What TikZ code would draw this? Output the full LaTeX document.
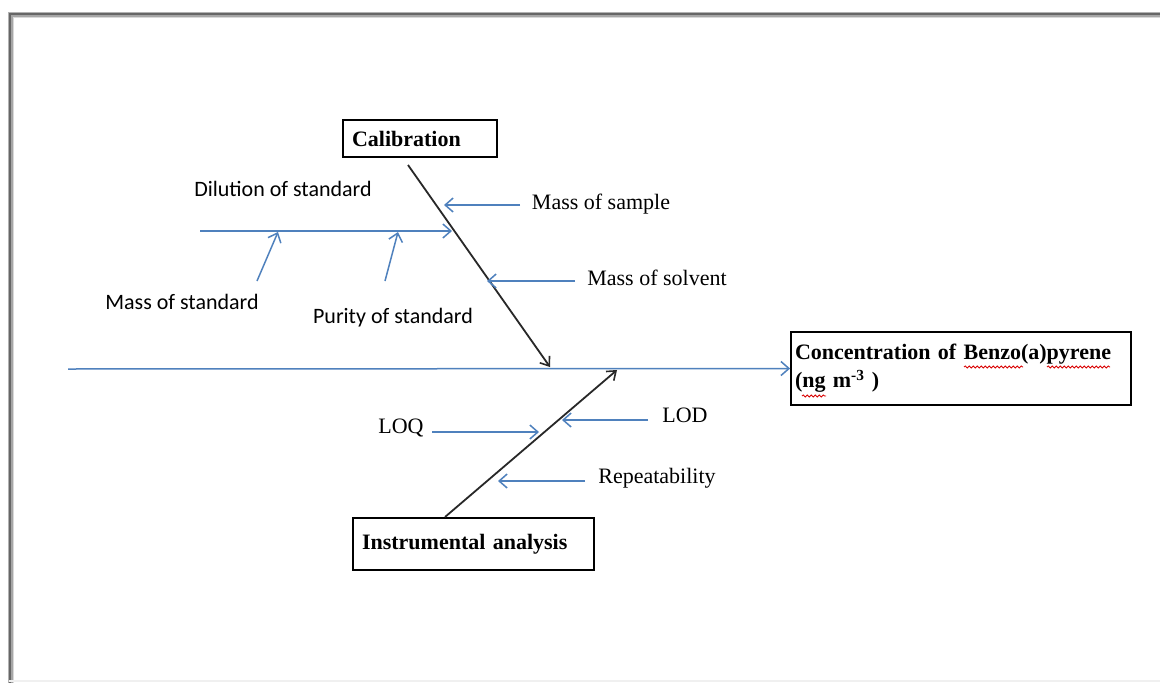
\documentclass[tikz,border=0pt]{standalone}
\usepackage{fontspec}
\setmainfont{Liberation Serif}
\newfontfamily\sansfnt{Carlito}
\usetikzlibrary{arrows.meta,decorations.pathmorphing}
\definecolor{ofblue}{RGB}{79,129,189}
\definecolor{boneblack}{RGB}{40,40,40}
\begin{document}
\begin{tikzpicture}[x=1pt,y=-1pt,
  txt/.style={font=\fontsize{22}{28}\selectfont, inner sep=0pt},
  stxt/.style={font=\sansfnt\fontsize{22}{28}\selectfont, inner sep=0pt},
  catbox/.style={draw=black, line width=1.8pt, font=\bfseries\fontsize{22}{28}\selectfont, align=left, inner ysep=0pt, anchor=center},
  bluearrow/.style={draw=ofblue, line width=1.5pt, -{Straight Barb[length=8pt,width=14pt,line width=1.5pt]}},
  bonearrow/.style={draw=boneblack, line width=1.8pt, -{Straight Barb[length=8pt,width=12pt,line width=1.6pt]}},
  squiggle/.style={draw=red!85!black, line width=0.8pt, decorate, decoration={snake, amplitude=1.1pt, segment length=4pt}}
]
\useasboundingbox (0,0) rectangle (1160,683);
\fill[white] (0,0) rectangle (1160,683);
% page shadow
\draw[line width=1.5pt, black!15] (13.5,690) -- (13.5,17.5) -- (1170,17.5);
\draw[line width=1.5pt, black!35] (12,690) -- (12,16) -- (1170,16);
\draw[line width=2pt, black!60] (10,690) -- (10,14) -- (1170,14);
\draw[line width=1pt, black!30] (8.5,690) -- (8.5,12.5) -- (1170,12.5);
\draw[line width=2pt, black!6] (9,681) -- (1160,681);

% boxes
\node[catbox, minimum width=154pt, minimum height=37pt, text width=136pt, inner xsep=9pt] (cal) at (420,138.5) {Calibration};
\node[catbox, minimum width=241pt, minimum height=52pt, text width=223pt, inner xsep=9pt] (ins) at (473.5,544) {Instrumental analysis};
\node[catbox, minimum width=340pt, minimum height=73pt, text width=332pt, inner xsep=4pt] (conc) at (961,368.5) {Concentration of Benzo(a)pyrene\\(ng m\textsuperscript{-3} )};

% spell-check squiggles
\coordinate (sq1a) at (964,367); \coordinate (sq1b) at (1023,367);
\coordinate (sq2a) at (1047,367); \coordinate (sq2b) at (1110,367);
\coordinate (sq3a) at (802,396); \coordinate (sq3b) at (826,396);
\draw[squiggle] (sq1a) -- (sq1b);
\draw[squiggle] (sq2a) -- (sq2b);
\draw[squiggle] (sq3a) -- (sq3b);

% labels
\node[stxt] (dil) at (283,189) {Dilution of standard};
\node[stxt] (mstd) at (182,302) {Mass of standard};
\node[stxt] (pur) at (393,318) {Purity of standard};
\node[txt] (msam) at (601,204) {Mass of sample};
\node[txt] (msol) at (657,278) {Mass of solvent};
\node[txt] (loq) at (401,428) {LOQ};
\node[txt] (lod) at (685,415) {LOD};
\node[txt] (rep) at (657,478) {Repeatability};

% coordinates
\coordinate (spine0) at (68,369);
\coordinate (cal0) at (408,165);
\coordinate (cal1) at (550,367);
\coordinate (ins0) at (445,517);
\coordinate (ins1) at (617,370);
\coordinate (sub0) at (200,231);
\coordinate (sub1) at (452,231);
\coordinate (ms0) at (257,281); \coordinate (ms1) at (278,232);
\coordinate (pu0) at (385,281); \coordinate (pu1) at (398,232);
\coordinate (sa0) at (520,205); \coordinate (sa1) at (444,205);
\coordinate (so0) at (575,281); \coordinate (so1) at (487,281);
\coordinate (lq0) at (432,432); \coordinate (lq1) at (539,432);
\coordinate (ld0) at (648,420); \coordinate (ld1) at (562,420);
\coordinate (rp0) at (585,481); \coordinate (rp1) at (498,481);

% spine
\draw[bluearrow] (spine0) -- (conc.west);
% bones
\draw[bonearrow] (cal0) -- (cal1);
\draw[bonearrow] (ins0) -- (ins1);
% sub-branches
\draw[bluearrow] (sub0) -- (sub1);
\draw[bluearrow] (ms0) -- (ms1);
\draw[bluearrow] (pu0) -- (pu1);
\draw[bluearrow] (sa0) -- (sa1);
\draw[bluearrow] (so0) -- (so1);
\draw[bluearrow] (lq0) -- (lq1);
\draw[bluearrow] (ld0) -- (ld1);
\draw[bluearrow] (rp0) -- (rp1);
\end{tikzpicture}
\end{document}
